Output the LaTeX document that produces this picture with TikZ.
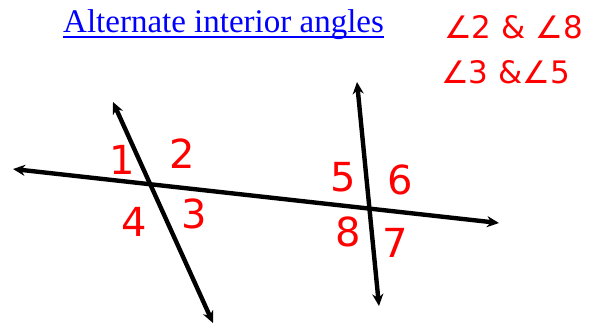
\documentclass[tikz,border=0pt]{standalone}
\usepackage{fontspec}
\setmainfont{Liberation Serif}
\newfontfamily\handfont{DejaVu Sans}
\usepackage{tikz}
\usetikzlibrary{arrows.meta,positioning,calc}
\definecolor{ink}{RGB}{255,0,0}
\definecolor{linkblue}{RGB}{0,0,255}
\tikzset{ray/.style={{Stealth[length=12pt,width=11pt]}-{Stealth[length=12pt,width=11pt]},line width=4.4pt,black},
  num/.style={font=\handfont\fontsize{40}{40}\selectfont,text=ink,inner sep=0pt},
  note/.style={font=\handfont\fontsize{31}{31}\selectfont,text=ink,inner sep=0pt,anchor=west},
  headline/.style={font=\fontsize{33}{36}\selectfont,text=linkblue,inner sep=0pt,anchor=base west}}
\begin{document}
\begin{tikzpicture}[x=1pt,y=-1pt]
\useasboundingbox (0,0) rectangle (593,329);
\node[headline] (title) at (63,33) {Alternate interior angles};
\draw[linkblue,line width=1.4pt] ($(title.base west)+(0,4)$) -- ($(title.base east)+(0,4)$);
\node[note] (pairA) at (444,27) {∠2 \& ∠8};
\node[note] (pairB) at (441,72) {∠3 \&∠5};
\coordinate (tl) at (13,169); \coordinate (tr) at (499,223);
\coordinate (at) at (113,102); \coordinate (ab) at (213,323);
\coordinate (bt) at (357,82); \coordinate (bb) at (379,306);
\draw[ray] (tl) -- (tr); \draw[ray] (at) -- (ab); \draw[ray] (bt) -- (bb);
\node[num] (n1) at (122,160) {1};
\node[num] (n2) at (182,154) {2};
\node[num] (n3) at (194,214) {3};
\node[num] (n4) at (134,222) {4};
\node[num] (n5) at (343,177) {5};
\node[num] (n6) at (400,180) {6};
\node[num] (n7) at (395,243) {7};
\node[num] (n8) at (348,232) {8};
\end{tikzpicture}
\end{document}
